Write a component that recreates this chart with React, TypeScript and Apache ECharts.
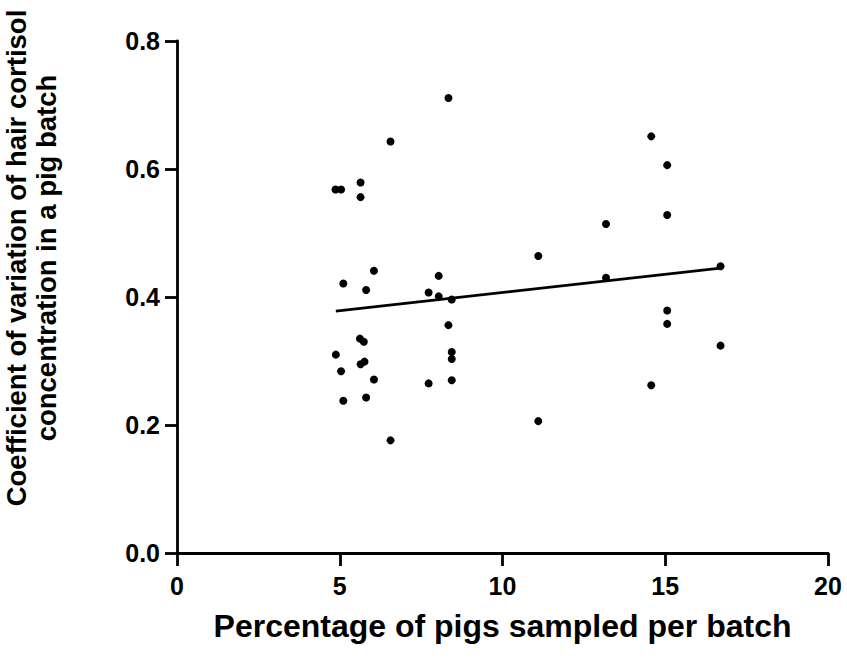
import React, { useEffect, useRef } from "react";
import * as echarts from "echarts";

// Percentage of pigs sampled per batch (x) and CV of hair cortisol (y)
const pctSampled = [
  4.87, 5.04, 5.64, 5.64, 6.56, 8.34, 6.05, 5.11, 5.81, 8.04,
  7.73, 8.04, 8.44, 8.34, 5.62, 5.74, 4.88, 8.44, 8.44, 5.64,
  5.76, 5.04, 6.05, 7.73, 8.44, 5.11, 5.81, 6.56, 14.57, 15.06,
  15.06, 13.18, 11.1, 13.18, 16.7, 15.06, 15.06, 16.7, 14.57, 11.1,
];
const cvCortisol = [
  0.568, 0.568, 0.579, 0.556, 0.643, 0.711, 0.441, 0.421, 0.411, 0.433,
  0.407, 0.401, 0.396, 0.356, 0.335, 0.33, 0.31, 0.314, 0.303, 0.295,
  0.299, 0.284, 0.271, 0.265, 0.27, 0.238, 0.243, 0.176, 0.651, 0.606,
  0.528, 0.514, 0.464, 0.43, 0.448, 0.379, 0.358, 0.324, 0.262, 0.206,
];
// regression line endpoints
const fitX = [4.88, 16.7];
const fitY = [0.378, 0.445];

const xTicks = [0, 5, 10, 15, 20];
const yTicks = [0.0, 0.2, 0.4, 0.6, 0.8];

const xTitle = "Percentage of pigs sampled per batch";
const yTitleLines = ["Coefficient of variation of hair cortisol", "concentration in a pig batch"];

const FONT = "'Liberation Sans', Arial, Helvetica, sans-serif";

export default function App() {
  const ref = useRef<HTMLDivElement>(null);
  useEffect(() => {
    if (!ref.current) return;
    const chart = echarts.init(ref.current, null, { renderer: "svg" });
    const points = pctSampled.map((x, i) => [x, cvCortisol[i]]);
    const fit = fitX.map((x, i) => [x, fitY[i]]);
    const axisLine = { lineStyle: { color: "#000", width: 2.8 } };
    chart.setOption({
      animation: false,
      backgroundColor: "#fff",
      grid: { left: 177, right: 19, top: 41, bottom: 111 },
      xAxis: {
        type: "value",
        min: xTicks[0],
        max: xTicks[xTicks.length - 1],
        interval: 5,
        name: xTitle,
        nameLocation: "middle",
        nameGap: 57,
        nameTextStyle: { fontFamily: FONT, fontWeight: "bold", fontSize: 32, color: "#000" },
        axisLine: { show: true, ...axisLine },
        axisTick: { show: true, length: 13, lineStyle: { color: "#000", width: 2.8 } },
        axisLabel: { fontFamily: FONT, fontWeight: "bold", fontSize: 25, color: "#000", margin: 20 },
        splitLine: { show: false },
      },
      yAxis: {
        type: "value",
        min: yTicks[0],
        max: yTicks[yTicks.length - 1],
        interval: 0.2,
        axisLine: { show: true, ...axisLine },
        axisTick: { show: true, length: 12, lineStyle: { color: "#000", width: 2.8 } },
        axisLabel: {
          fontFamily: FONT,
          fontWeight: "bold",
          fontSize: 25,
          color: "#000",
          margin: 17,
          formatter: (v: number) => v.toFixed(1),
        },
        splitLine: { show: false },
      },
      graphic: [
        {
          type: "text",
          x: 31,
          y: 258,
          rotation: Math.PI / 2,
          style: {
            text: yTitleLines.join("\n"),
            fontFamily: FONT,
            fontWeight: "bold",
            fontSize: 27.5,
            lineHeight: 30,
            fill: "#000",
            align: "center",
            verticalAlign: "middle",
          },
        },
      ],
      series: [
        {
          type: "scatter",
          data: points,
          symbol: "circle",
          symbolSize: 8,
          itemStyle: { color: "#000", opacity: 1 },
          z: 3,
        },
        {
          type: "line",
          data: fit,
          showSymbol: false,
          symbol: "none",
          lineStyle: { color: "#000", width: 2.8 },
          z: 2,
        },
      ],
    });
    return () => chart.dispose();
  }, []);
  return (
    <div
      ref={ref}
      style={{ position: "fixed", left: 0, top: 0, width: 847, height: 664, background: "#fff" }}
    />
  );
}
